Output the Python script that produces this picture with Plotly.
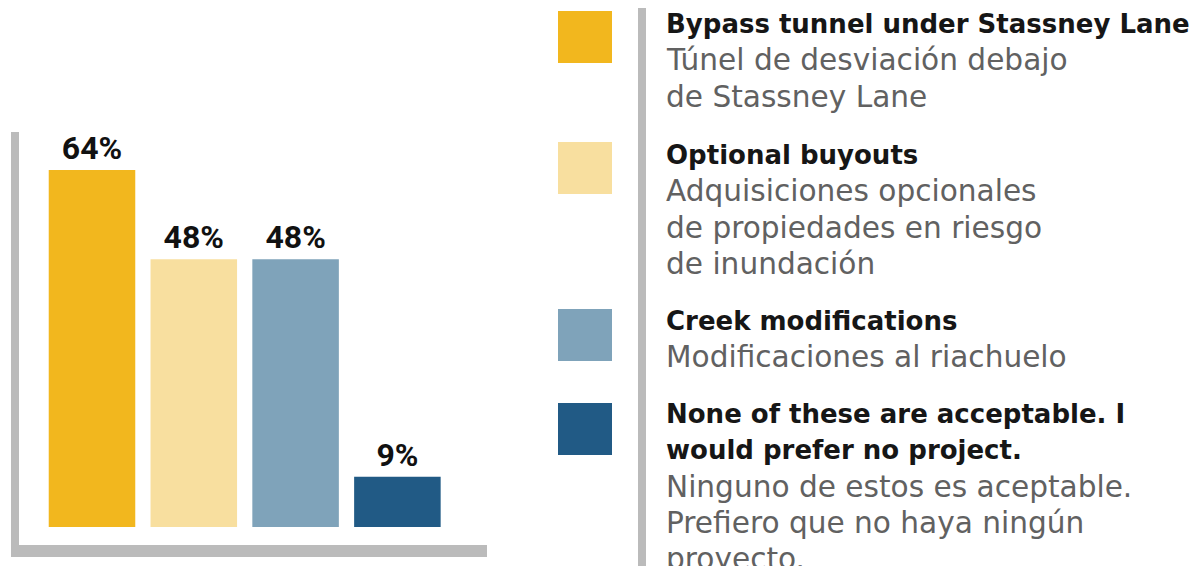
import plotly.graph_objects as go

# ---- data ----
categories = ["Bypass tunnel", "Optional buyouts", "Creek modifications", "None"]
values = [64, 48, 48, 9]
value_labels = ["64%", "48%", "48%", "9%"]
colors = ["#F2B71E", "#F8DF9F", "#7FA3BA", "#215A85"]
legend_bold = [
    ["Bypass tunnel under Stassney Lane"],
    ["Optional buyouts"],
    ["Creek modifications"],
    ["None of these are acceptable. I", "would prefer no project."],
]
legend_spanish = [
    ["Túnel de desviación debajo", "de Stassney Lane"],
    ["Adquisiciones opcionales", "de propiedades en riesgo", "de inundación"],
    ["Modificaciones al riachuelo"],
    ["Ninguno de estos es aceptable.", "Prefiero que no haya ningún", "proyecto."],
]

# page has an 8px body margin; map page pixels to paper coords
OFF = 8
W, H = 1200 - OFF, 566 - OFF
def px(x):
    return (x - OFF) / W
def py(y):
    return 1 - (y - OFF) / H

fig = go.Figure()
fig.add_trace(go.Bar(
    x=list(range(len(categories))),
    y=values,
    marker=dict(color=colors, line=dict(width=0)),
    text=value_labels,
    textposition="outside",
    cliponaxis=False,
    textfont=dict(family="Roboto, sans-serif", size=32, color="#111111", weight="bold"),
    hoverinfo="skip",
    width=0.85,
))

shapes = []
# axis frame lines (gray)
shapes.append(dict(type="rect", xref="paper", yref="paper",
                   x0=px(11), x1=px(19), y0=py(557), y1=py(132),
                   fillcolor="#BBBBBB", line=dict(width=0), layer="below"))
shapes.append(dict(type="rect", xref="paper", yref="paper",
                   x0=px(11), x1=px(487), y0=py(557), y1=py(545),
                   fillcolor="#BBBBBB", line=dict(width=0), layer="below"))
# separator
shapes.append(dict(type="rect", xref="paper", yref="paper",
                   x0=px(638), x1=px(646), y0=py(570), y1=py(3),
                   fillcolor="#BBBBBB", line=dict(width=0), layer="below"))

sq_tops = [11, 142, 309, 403]
group_first_line = [24, 155, 321, 414]
line_step = 36.3
annotations = []
for i in range(len(categories)):
    t = sq_tops[i]
    shapes.append(dict(type="rect", xref="paper", yref="paper",
                       x0=px(558), x1=px(612), y0=py(t + 52), y1=py(t),
                       fillcolor=colors[i], line=dict(width=0)))
    lines = [("<b>" + s + "</b>", "#161616", 26) for s in legend_bold[i]] + \
            [(s, "#616161", 29.6) for s in legend_spanish[i]]
    for k, (s, c, fs) in enumerate(lines):
        annotations.append(dict(
            xref="paper", yref="paper", x=px(664), y=py(group_first_line[i] + k * line_step),
            xanchor="left", yanchor="middle", align="left", showarrow=False,
            text=s,
            font=dict(family="DejaVu Sans, Open Sans, sans-serif", size=fs, color=c),
        ))

xr0 = -0.717
spacing = 101.8
fig.update_layout(
    width=W, height=H,
    margin=dict(l=0, r=0, t=0, b=0),
    paper_bgcolor="white", plot_bgcolor="white",
    showlegend=False,
    xaxis=dict(domain=[px(19), px(487)], range=[xr0, xr0 + (487 - 19) / spacing],
               visible=False, fixedrange=True),
    yaxis=dict(domain=[py(527), py(132)], range=[0, (527 - 132) / 5.58],
               visible=False, fixedrange=True),
    shapes=shapes,
    annotations=annotations,
)

fig.write_html("out.html")
